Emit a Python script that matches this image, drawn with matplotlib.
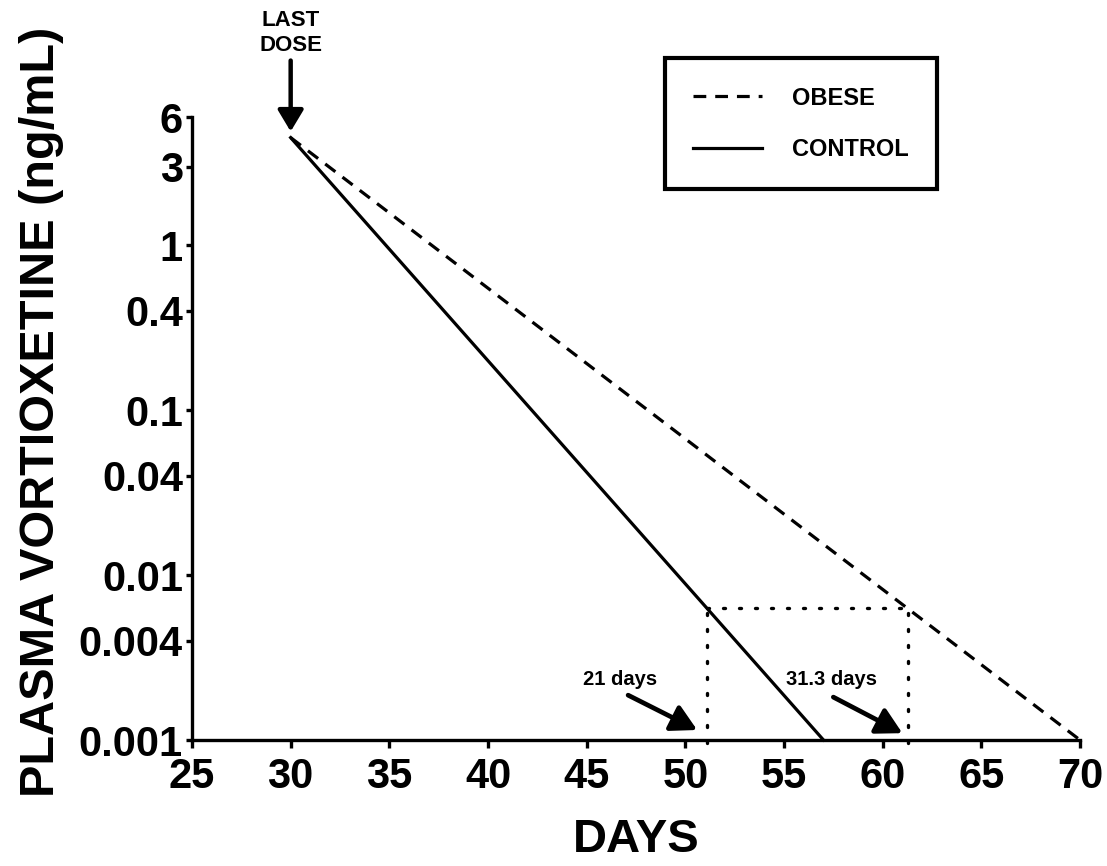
import matplotlib
matplotlib.use('Agg')
from matplotlib import pyplot as plt
from matplotlib.ticker import FixedLocator, FixedFormatter, NullLocator

plt.rcParams['font.family'] = ['Liberation Sans', 'DejaVu Sans']
plt.rcParams['font.weight'] = 'bold'

# data
days_obese = [30, 70]
conc_obese = [4.5, 0.001]
days_control = [30, 57]
conc_control = [4.5, 0.001]
threshold = 0.0063
cross_days = [51.1, 61.3]          # control, obese reach threshold
cross_labels = ['21 days', '31.3 days']
arrow_tails = [(47.1, 0.00187), (57.5, 0.00182)]
arrow_tips = [(50.6, 0.00115), (61.0, 0.00110)]
label_pos = [(46.7, 0.00234), (57.4, 0.00234)]
last_dose_day = 30

yticks = [0.001, 0.004, 0.01, 0.04, 0.1, 0.4, 1, 3, 6]
ytick_labels = ['0.001', '0.004', '0.01', '0.04', '0.1', '0.4', '1', '3', '6']
xticks = [25, 30, 35, 40, 45, 50, 55, 60, 65, 70]

fig = plt.figure(figsize=(11.07, 8.66), dpi=100)
ax = fig.add_axes([192 / 1107, 126 / 866, 888 / 1107, 623 / 866])

lw = 2.3
ax.plot(days_obese, conc_obese, color='black', lw=lw, linestyle=(0, (4, 2.8)),
        label='OBESE', clip_on=False)
ax.plot(days_control, conc_control, color='black', lw=lw, label='CONTROL',
        clip_on=False)

# dotted guide lines
dot = (0, (0.6, 4.2))
ax.plot(cross_days, [threshold, threshold], color='black', lw=2.4, linestyle=dot,
        dash_capstyle='round')
for d in cross_days:
    ax.plot([d, d], [threshold * 0.93, 0.00093], color='black', lw=2.4,
            linestyle=dot, dash_capstyle='round', clip_on=False)

# annotation arrows
for (tx, ty), (hx, hy), (lx, ly), lab in zip(arrow_tails, arrow_tips, label_pos, cross_labels):
    ax.annotate('', xy=(hx, hy), xytext=(tx, ty),
                arrowprops=dict(arrowstyle='-|>,head_length=0.55,head_width=0.3',
                                lw=3.4, color='black', mutation_scale=28,
                                shrinkA=0, shrinkB=0))
    ax.text(lx, ly, lab, fontsize=14.5, fontweight='bold', ha='center', va='center')

ax.annotate('', xy=(last_dose_day, 4.9), xytext=(last_dose_day, 13.2),
            arrowprops=dict(arrowstyle='-|>,head_length=0.5,head_width=0.3',
                            lw=3.2, color='black', mutation_scale=26,
                            shrinkA=0, shrinkB=0), annotation_clip=False)
ax.text(last_dose_day, 19.5, 'LAST\nDOSE', fontsize=16, fontweight='bold',
        ha='center', va='center', linespacing=1.25, clip_on=False)

ax.set_yscale('log')
ax.set_ylim(0.001, 6)
ax.set_xlim(25, 70)
ax.yaxis.set_major_locator(FixedLocator(yticks))
ax.yaxis.set_major_formatter(FixedFormatter(ytick_labels))
ax.yaxis.set_minor_locator(NullLocator())
ax.set_xticks(xticks)

for s in ['top', 'right']:
    ax.spines[s].set_visible(False)
for s in ['left', 'bottom']:
    ax.spines[s].set_linewidth(2.4)

ax.tick_params(axis='x', length=6, width=2.4, labelsize=30, pad=6)
ax.tick_params(axis='y', length=4.5, width=2.4, labelsize=30, pad=2)
for t in ax.get_xticklabels() + ax.get_yticklabels():
    t.set_fontweight('bold')

fig.text(636 / 1107, 1 - 840 / 866, 'DAYS', fontsize=34, fontweight='bold',
         ha='center', va='center')
fig.text(42 / 1107, 1 - 412 / 866, 'PLASMA VORTIOXETINE (ng/mL)', fontsize=35,
         fontweight='bold', rotation=90, ha='center', va='center')

leg = ax.legend(loc='center', bbox_to_anchor=(0.686, 0.989), fontsize=17,
                frameon=True, fancybox=False, framealpha=1, handlelength=2.9,
                handletextpad=1.3, labelspacing=1.2, borderpad=1.2,
                borderaxespad=0)
leg.get_frame().set_edgecolor('black')
leg.get_frame().set_linewidth(3)
leg.set_clip_on(False)

plt.savefig('out.png', dpi=100)
